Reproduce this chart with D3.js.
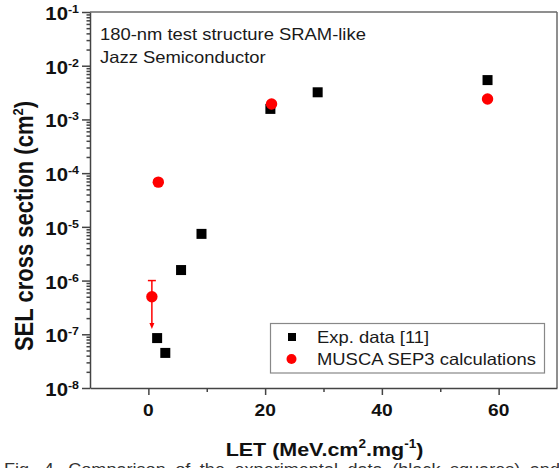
<!DOCTYPE html>
<html><head><meta charset="utf-8">
<script src="https://cdn.jsdelivr.net/npm/d3@7"></script>
<style>
html,body{margin:0;padding:0;background:#fff;}
svg{display:block;}
text{font-family:"Liberation Sans", Arial, Helvetica, sans-serif;}
</style></head><body>
<svg id="chart" width="559" height="468"></svg>
<script>
// ---- data ----
const expLET   = [1.5, 2.9, 5.6, 9.1, 20.9, 29.0, 58.1];
const expSigma = [8.5e-8, 4.5e-8, 1.57e-6, 7.4e-6, 1.57e-3, 3.2e-3, 5.4e-3];
const muscaLET   = [0.6, 1.7, 21.1, 58.1];
const muscaSigma = [5.0e-7, 6.8e-5, 1.94e-3, 2.4e-3];
const errLET  = [0.6];
const errHigh = [1.0e-6];
const errLow  = [1.26e-7];
const xTickValues = [0, 20, 40, 60];
const xMinorTicks = [10, 30, 50];
const yTickExponents = [-8, -7, -6, -5, -4, -3, -2, -1];
const legendLabels = ["Exp. data [11]", "MUSCA SEP3 calculations"];
const annotationLines = ["180-nm test structure SRAM-like", "Jazz Semiconductor"];
const xTitleParts = ["LET (MeV.cm", "2", ".mg", "-1", ")"];
const yTitleParts = ["SEL cross section (cm", "2", ")"];
const captionText = "Fig. 4.   Comparison of the experimental data (black squares) and";

// ---- layout ----
const svg = d3.select("#chart");
const L = 90, R = 557, T = 12, B = 388;
const SX = 1.13; // horizontal stretch of the source image
const axisCol = "#444", frameCol = "#6a6a6a";

const x = d3.scaleLinear().domain([-10, 70]).range([L, R]);
const y = d3.scaleLog().domain([1e-8, 1e-1]).range([B, T]);

// frame (top, right)
svg.append("line").attr("x1", L).attr("x2", R).attr("y1", T).attr("y2", T)
  .attr("stroke", frameCol).attr("stroke-width", 1.5);
svg.append("line").attr("x1", R).attr("x2", R).attr("y1", T).attr("y2", B)
  .attr("stroke", frameCol).attr("stroke-width", 1.5);

// y axis
const yMinor = [];
yTickExponents.slice(0, -1).forEach(e => { for (let k = 2; k <= 9; k++) yMinor.push(k * Math.pow(10, e)); });
const gy = svg.append("g").attr("transform", `translate(${L},0)`);
gy.call(d3.axisLeft(y).tickValues(yTickExponents.map(e => Math.pow(10, e))).tickSize(8).tickSizeOuter(0).tickFormat(""));
gy.append("g").call(d3.axisLeft(y).tickValues(yMinor).tickSize(3.5).tickSizeOuter(0).tickFormat(""))
  .select(".domain").remove();
gy.selectAll("path,line").attr("stroke", axisCol).attr("stroke-width", 1.5);

// x axis
const gx = svg.append("g").attr("transform", `translate(0,${B})`);
gx.call(d3.axisBottom(x).tickValues(xTickValues).tickSize(7).tickSizeOuter(0).tickFormat(""));
gx.append("g").call(d3.axisBottom(x).tickValues(xMinorTicks).tickSize(4).tickSizeOuter(0).tickFormat(""))
  .select(".domain").remove();
gx.selectAll("path,line").attr("stroke", axisCol).attr("stroke-width", 1.5);

// y tick labels
yTickExponents.forEach(e => {
  const t = svg.append("g")
    .attr("transform", `translate(79,${y(Math.pow(10, e)) + 8}) scale(${SX},1)`)
    .append("text").attr("text-anchor", "end").attr("font-weight", "bold")
    .attr("font-size", 18).attr("fill", "#111");
  t.append("tspan").text("10");
  t.append("tspan").attr("font-size", 11).attr("dy", -7).text(String(e));
});

// x tick labels
xTickValues.forEach(v => {
  svg.append("g").attr("transform", `translate(${x(v)},416) scale(${SX},1)`)
    .append("text").attr("text-anchor", "middle").attr("font-weight", "bold")
    .attr("font-size", 17).attr("fill", "#111").text(v);
});

// x title
{
  const t = svg.append("g").attr("transform", `translate(${(L + R) / 2 + 1},456) scale(${SX},1)`)
    .append("text").attr("text-anchor", "middle").attr("font-weight", "bold")
    .attr("font-size", 19).attr("fill", "#111");
  t.append("tspan").text(xTitleParts[0]);
  t.append("tspan").attr("font-size", 12).attr("dy", -8).text(xTitleParts[1]);
  t.append("tspan").attr("dy", 8).text(xTitleParts[2]);
  t.append("tspan").attr("font-size", 12).attr("dy", -8).text(xTitleParts[3]);
  t.append("tspan").attr("dy", 8).text(xTitleParts[4]);
}

// y title
{
  const t = svg.append("g").attr("transform", `translate(33,226) scale(${SX},1) rotate(-90)`)
    .append("text").attr("text-anchor", "middle").attr("font-weight", "bold")
    .attr("font-size", 22).attr("fill", "#111");
  t.append("tspan").text(yTitleParts[0]);
  t.append("tspan").attr("font-size", 13).attr("dy", -9).text(yTitleParts[1]);
  t.append("tspan").attr("dy", 9).text(yTitleParts[2]);
}

// annotation
annotationLines.forEach((s, i) => {
  svg.append("g").attr("transform", `translate(100,${40 + i * 22.5}) scale(${SX},1)`)
    .append("text").attr("font-size", 16.3).attr("fill", "#1a1a1a").text(s);
});

// error bar with downward arrow
errLET.forEach((v, i) => {
  const cx = x(v);
  svg.append("line").attr("x1", cx).attr("x2", cx).attr("y1", y(errHigh[i])).attr("y2", y(errLow[i]) - 3)
    .attr("stroke", "#f00").attr("stroke-width", 1.5);
  svg.append("line").attr("x1", cx - 4).attr("x2", cx + 4).attr("y1", y(errHigh[i])).attr("y2", y(errHigh[i]))
    .attr("stroke", "#f00").attr("stroke-width", 1.5);
  const yl = y(errLow[i]);
  svg.append("path").attr("d", `M${cx - 2.5},${yl - 6}L${cx + 2.5},${yl - 6}L${cx},${yl}Z`).attr("fill", "#f00");
});

// experimental squares
svg.append("g").selectAll("rect").data(expLET).join("rect")
  .attr("x", (d, i) => x(d) - 5).attr("y", (d, i) => y(expSigma[i]) - 5)
  .attr("width", 10).attr("height", 10).attr("fill", "#000");

// MUSCA circles
svg.append("g").selectAll("circle").data(muscaLET).join("circle")
  .attr("cx", d => x(d)).attr("cy", (d, i) => y(muscaSigma[i])).attr("r", 5.7).attr("fill", "#f00");

// legend
{
  const g = svg.append("g");
  g.append("rect").attr("x", 270.5).attr("y", 323.5).attr("width", 274).attr("height", 49.5)
    .attr("fill", "#fff").attr("stroke", "#888").attr("stroke-width", 1.2);
  g.append("rect").attr("x", 288).attr("y", 333).attr("width", 8).attr("height", 8).attr("fill", "#000");
  g.append("circle").attr("cx", 291.5).attr("cy", 359).attr("r", 5).attr("fill", "#f00");
  legendLabels.forEach((s, i) => {
    g.append("g").attr("transform", `translate(317,${343 + i * 22}) scale(${SX},1)`)
      .append("text").attr("font-size", 16.3).attr("fill", "#1a1a1a").text(s);
  });
}

// caption (cut off at the bottom edge in the source: only the tops of the letters show)
svg.append("g").attr("transform", `translate(4,475) scale(${SX},1)`)
  .append("text").attr("font-family", "'Liberation Serif', 'Times New Roman', serif")
  .attr("font-size", 16).attr("fill", "#333").attr("word-spacing", 4).text(captionText);
</script>
</body></html>
